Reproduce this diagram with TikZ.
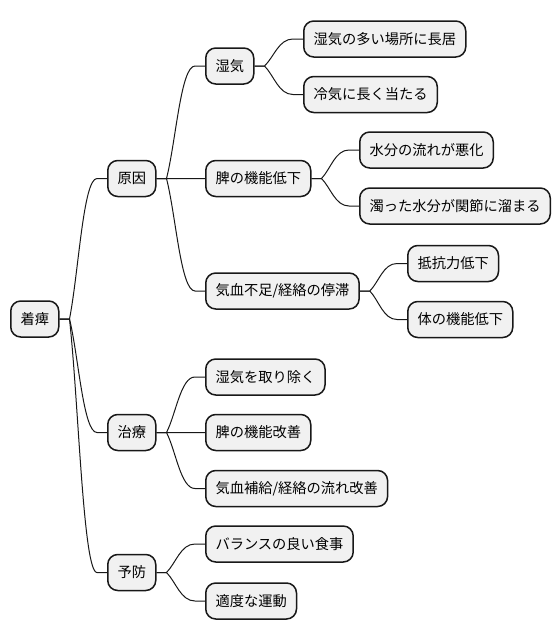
\documentclass[tikz,border=0pt]{standalone}
\usepackage{fontspec}
\setmainfont{Noto Sans CJK JP}
\usetikzlibrary{calc}
\definecolor{boxfill}{HTML}{F1F1F1}
\definecolor{boxline}{HTML}{181818}
\tikzset{
  mm/.style={draw=boxline, fill=boxfill, line width=1.5pt, rounded corners=10pt,
    inner xsep=9.75pt, inner ysep=0pt, minimum height=36pt, anchor=west,
    font=\fontsize{14.25pt}{17pt}\selectfont},
  link/.style={draw=boxline, line width=1pt}
}
\newcommand\mmconn[2]{\draw[link] let \p1=($(#1.east)+(10pt,0)$), \p2=($(#2.west)+(-10pt,0)$) in
  (#1.east) -- (\p1) .. controls ($(\p1)!0.333!(\p2)$) and ({0.5*\x1+0.5*\x2},\y2) .. (\p2) -- (#2.west);}
\begin{document}
\begin{tikzpicture}[x=1pt,y=-1pt]
\useasboundingbox (0,0) rectangle (558,640);
\node[mm] (root) at (10,319) {着痺};
\node[mm] (cause) at (107,178.5) {原因};
\node[mm] (cure) at (107,432.5) {治療};
\node[mm] (prev) at (107,572.5) {予防};
\node[mm] (damp) at (205,66) {湿気};
\node[mm] (spleen) at (205,178.5) {脾の機能低下};
\node[mm] (qi) at (205,291) {気血不足/経絡の停滞};
\node[mm] (d1) at (303,39) {湿気の多い場所に長居};
\node[mm] (d2) at (303,94.5) {冷気に長く当たる};
\node[mm] (s1) at (359,150) {水分の流れが悪化};
\node[mm] (s2) at (359,206) {濁った水分が関節に溜まる};
\node[mm] (q1) at (407,263.5) {抵抗力低下};
\node[mm] (q2) at (407,319.5) {体の機能低下};
\node[mm] (c1) at (205,377) {湿気を取り除く};
\node[mm] (c2) at (205,432.5) {脾の機能改善};
\node[mm] (c3) at (205,488.5) {気血補給/経絡の流れ改善};
\node[mm] (p1) at (205,544) {バランスの良い食事};
\node[mm] (p2) at (205,601) {適度な運動};
\mmconn{root}{cause}
\mmconn{root}{cure}
\mmconn{root}{prev}
\mmconn{cause}{damp}
\mmconn{cause}{spleen}
\mmconn{cause}{qi}
\mmconn{damp}{d1}
\mmconn{damp}{d2}
\mmconn{spleen}{s1}
\mmconn{spleen}{s2}
\mmconn{qi}{q1}
\mmconn{qi}{q2}
\mmconn{cure}{c1}
\mmconn{cure}{c2}
\mmconn{cure}{c3}
\mmconn{prev}{p1}
\mmconn{prev}{p2}
\end{tikzpicture}
\end{document}
